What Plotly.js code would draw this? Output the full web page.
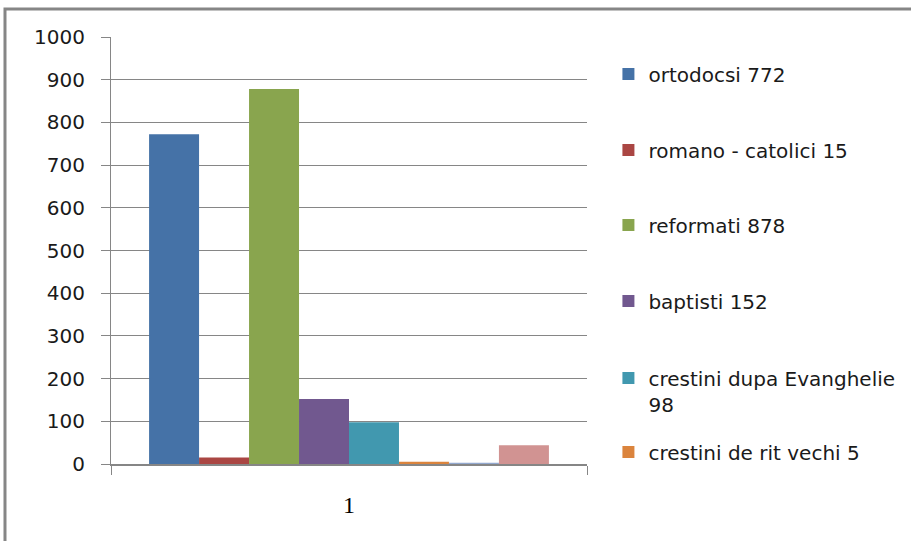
<!DOCTYPE html>
<html>
<head>
<meta charset="utf-8">
<script src="https://cdn.plot.ly/plotly-3.0.1.min.js"></script>
<style>html,body{margin:0;padding:0;background:#fff;}#chart{width:911px;height:541px;}</style>
</head>
<body>
<div id="chart"></div>
<script>
const categories = ['1'];
const seriesNames = ['ortodocsi 772', 'romano - catolici 15', 'reformati 878', 'baptisti 152', 'crestini dupa Evanghelie<br>98', 'crestini de rit vechi 5', 'seria 7', 'seria 8'];
const seriesValues = [772, 15, 878, 152, 98, 5, 3, 44];
const seriesColors = ['#4572A7', '#AA4643', '#89A54E', '#71588F', '#4198AF', '#DB843D', '#93A9CF', '#D19392'];
const yTicks = [0, 100, 200, 300, 400, 500, 600, 700, 800, 900, 1000];
const legendCenters = [0.9133, 0.7354, 0.5597, 0.3817, 0.1710, 0.0281];

const font = 'DejaVu Sans';
const grey = '#868686';

const traces = seriesNames.map((name, i) => ({
  type: 'bar',
  name: name,
  x: categories,
  y: [seriesValues[i]],
  marker: {color: seriesColors[i], line: {width: 0}},
  showlegend: i < legendCenters.length,
  legend: i === 0 ? 'legend' : 'legend' + (Math.min(i, legendCenters.length - 1) + 1),
  hoverinfo: 'name+y'
}));

const layout = {
  width: 911, height: 541,
  showlegend: true,
  margin: {l: 111, r: 324, t: 37, b: 77, autoexpand: false},
  paper_bgcolor: '#ffffff', plot_bgcolor: '#ffffff',
  barmode: 'group', bargap: 0.16, bargroupgap: 0,
  font: {family: font, size: 20, color: '#1a1a1a'},
  xaxis: {
    type: 'category', tickson: 'boundaries', ticks: 'outside', ticklen: 9,
    tickcolor: grey, tickwidth: 1, showline: true, linecolor: grey, linewidth: 2,
    showgrid: false, zeroline: false, automargin: false,
    tickfont: {family: 'Liberation Serif', size: 24, color: '#000'},
    ticklabelstandoff: 18
  },
  yaxis: {
    range: [0, 1000], tickvals: yTicks, ticktext: yTicks.map(String),
    ticks: 'outside', ticklen: 9, tickcolor: grey, tickwidth: 1,
    showline: true, linecolor: grey, linewidth: 1, automargin: false,
    showgrid: true, gridcolor: grey, gridwidth: 1, zeroline: false,
    tickfont: {family: font, size: 20, color: '#1a1a1a'},
    ticklabelstandoff: 12
  },
  shapes: [{
    type: 'rect', xref: 'paper', yref: 'paper',
    x0: -0.2227, x1: 1.75, y0: -0.4, y1: 1.0656,
    line: {color: grey, width: 3}, fillcolor: 'rgba(0,0,0,0)', layer: 'below'
  }]
};

legendCenters.forEach((c, i) => {
  const key = i === 0 ? 'legend' : 'legend' + (i + 1);
  layout[key] = {
    visible: true,
    x: 1.045, xanchor: 'left', y: c, yanchor: 'middle',
    bgcolor: 'rgba(0,0,0,0)', borderwidth: 0, valign: 'top',
    font: {family: font, size: 20, color: '#1a1a1a'},
    itemclick: false, itemdoubleclick: false
  };
});

Plotly.newPlot('chart', traces, layout, {displayModeBar: false, staticPlot: true});
</script>
</body>
</html>
